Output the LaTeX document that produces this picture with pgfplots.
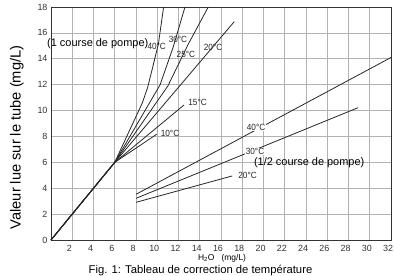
\documentclass[border=0pt]{standalone}
\usepackage{fontspec}
\setmainfont{Liberation Sans}
\newfontfamily\narrowfont[FakeStretch=0.92]{Liberation Sans}
\usepackage{pgfplots}
\pgfplotsset{compat=1.18}
\usetikzlibrary{calc}
\tikzset{tlab/.style={font=\narrowfont\fontsize{9}{10}\selectfont, text=black!85, inner sep=0.6bp},
 curve/.style={black!85, line width=0.8bp, mark=none}}

\begin{document}
\begin{tikzpicture}
\begin{axis}[
 width=340bp, height=233bp, scale only axis,
 xmin=0, xmax=32, ymin=0, ymax=18,
 xtick={2,4,...,32}, ytick={0,2,...,18},
 grid=major, major grid style={black!30, line width=0.7bp},
 axis line style={black!80, line width=0.9bp},
 major tick length=0pt,
 tick label style={font=\fontsize{9}{10}\selectfont, text=black!80},
 xticklabel style={yshift=-1.5bp, xshift=-3bp},
 /pgf/number format/assume math mode=true,
 clip=false,
]
% 1 course de pompe
\addplot[curve] coordinates {(0,0) (6,6) (9.95,8.17)};            % 10 C
\addplot[curve] coordinates {(0,0) (6,6) (12.52,10.43)};          % 15 C
\addplot[curve] coordinates {(0,0) (6,6) (17.25,16.87)};          % 20 C
\addplot[curve] coordinates {(0,0) (6,6) (11,11.9) (12.9,15.1) (14.8,18)};      % 25 C
\addplot[curve] coordinates {(0,0) (6,6) (10.26,11.98) (11.5,14.9) (12.61,18)}; % 30 C
\addplot[curve] coordinates {(0,0) (6,6) (8.6,10.6) (9.1,11.8) (10.1,15.1) (10.6,18)}; % 40 C
% 1/2 course de pompe
\addplot[curve] coordinates {(8,3.53) (32,14.1)};     % 40 C
\addplot[curve] coordinates {(8,3.22) (28.9,10.22)};  % 30 C
\addplot[curve] coordinates {(8,2.91) (17.06,4.95)};  % 20 C

\node[tlab] at (axis cs:11.2,8.25) {10°C};
\node[tlab] at (axis cs:13.8,10.6) {15°C};
\node[tlab] at (axis cs:15.25,14.86) {20°C};
\node[tlab] at (axis cs:12.7,14.37) {25°C};
\node[tlab] at (axis cs:11.95,15.46) {30°C};
\node[tlab] at (axis cs:9.95,14.94) {40°C};
\node[tlab, fill=white] at (axis cs:19.3,8.68) {40°C};
\node[tlab, fill=white] at (axis cs:19.2,6.82) {30°C};
\node[tlab] at (axis cs:18.5,5.02) {20°C};

\node[font=\fontsize{11}{12}\selectfont, inner sep=0pt] at (axis cs:4.4,15.15) {(1 course de pompe)};
\node[font=\fontsize{11}{12}\selectfont, inner sep=0pt] at (axis cs:24.3,5.95) {(1/2 course de pompe)};

\node[rotate=90, anchor=base, font=\fontsize{14.7}{16}\selectfont, inner sep=0pt] at (axis cs:-2.85,7.92) {Valeur lue sur le tube (mg/L)};
\node[font=\fontsize{8.5}{9}\selectfont, inner sep=0pt] at (axis cs:16.1,-1.39) {H\textsubscript{2}O\ \ \ (mg/L)};
\node[anchor=base, font=\fontsize{11.3}{12}\selectfont, inner sep=0pt] at (axis cs:14.07,-2.57) {Fig. 1: Tableau de correction de température};
\end{axis}
\pgfresetboundingbox
\path ($(current axis.south west)+(-51bp,-36bp)$) rectangle ($(current axis.north east)+(3bp,7bp)$);
\end{tikzpicture}
\end{document}
